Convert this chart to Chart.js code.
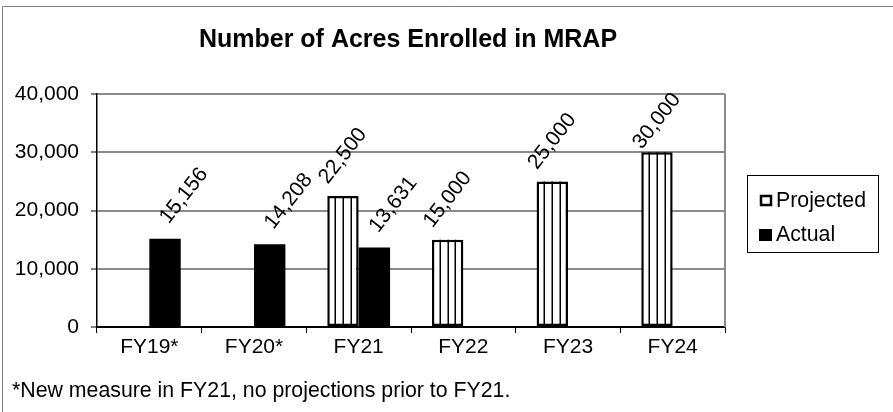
<!DOCTYPE html>
<html>
<head>
<meta charset="utf-8">
<script src="https://cdn.jsdelivr.net/npm/chart.js@4.4.1/dist/chart.umd.min.js"></script>
<style>
  html, body { margin: 0; padding: 0; background: #ffffff; }
  #wrap { width: 893px; height: 412px; }
</style>
</head>
<body>
<div id="wrap"><canvas id="c" width="893" height="412"></canvas></div>
<script>
const categories = ['FY19*', 'FY20*', 'FY21', 'FY22', 'FY23', 'FY24'];
const projected = [null, null, 22500, 15000, 25000, 30000];
const actual = [15156, 14208, 13631, null, null, null];
const yTicks = [0, 10000, 20000, 30000, 40000];
const seriesNames = ['Projected', 'Actual'];
const titleText = 'Number of Acres Enrolled in MRAP';
const footnoteText = '*New measure in FY21, no projections prior to FY21.';

const FONT = '"Liberation Sans", Arial, Helvetica, sans-serif';
const GRID = '#8a8a8a';
const fmt = v => Number(v).toLocaleString('en-US');

const decor = {
  id: 'decor',
  beforeDraw(chart) {
    const ctx = chart.ctx;
    ctx.save();
    ctx.fillStyle = '#ffffff';
    ctx.fillRect(0, 0, chart.width, chart.height);
    ctx.strokeStyle = '#808080';
    ctx.lineWidth = 1;
    ctx.beginPath();
    ctx.moveTo(2.5, chart.height + 2);
    ctx.lineTo(2.5, 6.5);
    ctx.lineTo(chart.width + 2, 6.5);
    ctx.stroke();
    ctx.restore();
  },
  afterDraw(chart) {
    const ctx = chart.ctx;
    const a = chart.chartArea;
    ctx.save();
    ctx.strokeStyle = GRID;
    ctx.lineWidth = 2;
    ctx.beginPath();
    ctx.moveTo(a.right, a.top);
    ctx.lineTo(a.right, a.bottom);
    ctx.stroke();
    ctx.fillStyle = '#000';
    ctx.font = 'bold 25px ' + FONT;
    ctx.textAlign = 'center';
    ctx.textBaseline = 'alphabetic';
    ctx.fillText(titleText, 408, 47);
    ctx.font = '21.3px ' + FONT;
    ctx.textAlign = 'left';
    ctx.fillText(footnoteText, 12, 397);
    const lx = 747, ly = 175, lw = 131, lh = 77;
    ctx.strokeStyle = '#000';
    ctx.lineWidth = 1;
    ctx.strokeRect(lx + 0.5, ly + 0.5, lw, lh);
    ctx.fillStyle = '#fff';
    ctx.fillRect(760, 195, 12, 11);
    ctx.lineWidth = 2.5;
    ctx.strokeRect(761, 196, 10, 9);
    ctx.fillStyle = '#000';
    ctx.fillRect(759, 229, 13, 12);
    ctx.font = '21.3px ' + FONT;
    ctx.textBaseline = 'alphabetic';
    ctx.fillText(seriesNames[0], 776, 207);
    ctx.fillText(seriesNames[1], 776, 241);
    ctx.restore();
  },
  afterDatasetsDraw(chart) {
    const ctx = chart.ctx;
    const a = chart.chartArea;
    ctx.save();
    const m0 = chart.getDatasetMeta(0);
    ctx.strokeStyle = '#000';
    ctx.lineWidth = 1.5;
    m0.data.forEach((bar, j) => {
      if (chart.data.datasets[0].data[j] == null) return;
      const p = bar.getProps(['x', 'y', 'base', 'width'], true);
      const left = p.x - p.width / 2;
      for (let k = 1; k <= 3; k++) {
        const sx = Math.round(left + p.width * k / 4) + 0.25;
        ctx.beginPath();
        ctx.moveTo(sx, p.y);
        ctx.lineTo(sx, p.base);
        ctx.stroke();
      }
    });
    ctx.fillStyle = '#000';
    ctx.font = '21px ' + FONT;
    ctx.textAlign = 'center';
    ctx.textBaseline = 'middle';
    const offs = [{dx: 0, dy: 40}, {dx: 19, dy: 43}];
    chart.data.datasets.forEach((ds, i) => {
      const meta = chart.getDatasetMeta(i);
      meta.data.forEach((bar, j) => {
        const v = ds.data[j];
        if (v == null) return;
        const p = bar.getProps(['x', 'y'], true);
        const cx = p.x + offs[i].dx;
        let cy = p.y - offs[i].dy;
        cy = Math.max(cy, a.top + 27);
        ctx.save();
        ctx.translate(cx, cy);
        ctx.rotate(-52 * Math.PI / 180);
        ctx.fillText(fmt(v), 0, 0);
        ctx.restore();
      });
    });
    ctx.restore();
  }
};

new Chart(document.getElementById('c'), {
  type: 'bar',
  data: {
    labels: categories,
    datasets: [
      {
        label: seriesNames[0],
        data: projected,
        backgroundColor: '#ffffff',
        borderColor: '#000000',
        borderWidth: 2.5,
        borderSkipped: false
      },
      {
        label: seriesNames[1],
        data: actual,
        backgroundColor: '#000000',
        borderColor: '#000000',
        borderWidth: 0
      }
    ]
  },
  options: {
    responsive: false,
    devicePixelRatio: 1,
    animation: false,
    events: [],
    categoryPercentage: 0.6,
    barPercentage: 1.0,
    layout: { padding: { left: 0, top: 94, right: 168, bottom: 0 } },
    plugins: {
      legend: { display: false },
      title: { display: false },
      tooltip: { enabled: false }
    },
    scales: {
      x: {
        offset: true,
        grid: {
          display: true,
          offset: true,
          drawOnChartArea: false,
          drawTicks: true,
          tickLength: 6,
          tickColor: '#000',
          tickWidth: 1
        },
        border: { display: true, color: '#000', width: 1.5 },
        ticks: {
          color: '#000',
          padding: 2,
          maxRotation: 0,
          autoSkip: false,
          font: { family: FONT, size: 21 }
        },
        afterFit(scale) { scale.height = 85; }
      },
      y: {
        min: 0,
        max: 40000,
        afterBuildTicks(scale) { scale.ticks = yTicks.map(v => ({ value: v })); },
        grid: {
          color: c => (c.tick && c.tick.value === 0) ? '#000' : GRID,
          lineWidth: 2,
          drawTicks: true,
          tickLength: 6,
          tickColor: '#000',
          tickWidth: 1
        },
        border: { display: true, color: '#000', width: 1.5 },
        ticks: {
          color: '#000',
          padding: 12,
          font: { family: FONT, size: 21 },
          callback: v => fmt(v)
        },
        afterFit(scale) { scale.width = 97; }
      }
    }
  },
  plugins: [decor]
});
</script>
</body>
</html>
